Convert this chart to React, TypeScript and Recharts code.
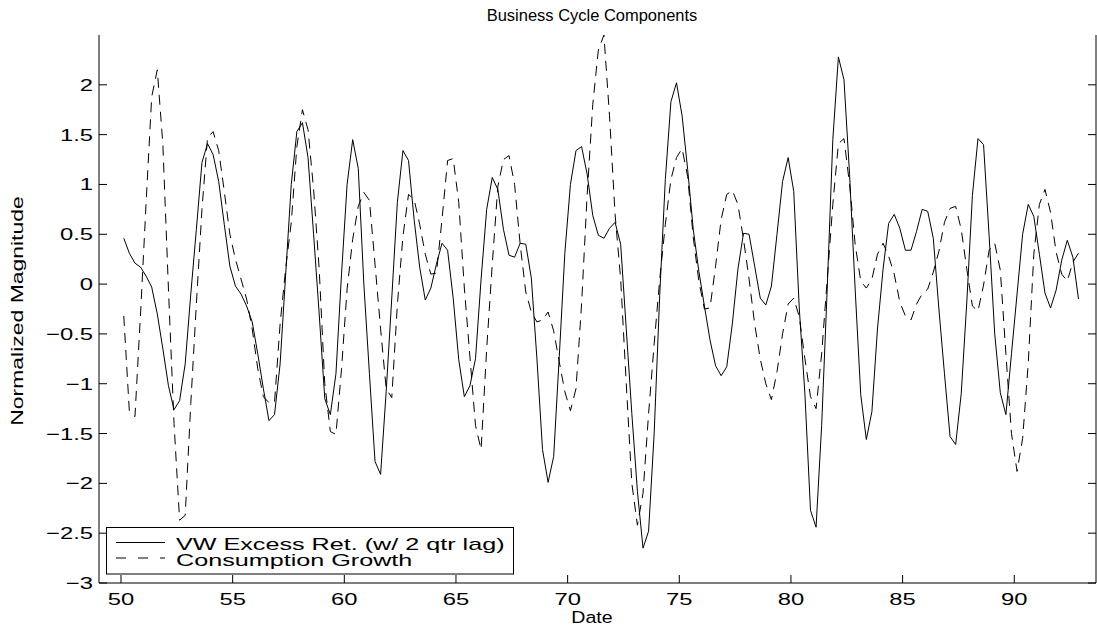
import React from 'react';
import { LineChart, Line, XAxis, YAxis, Legend } from 'recharts';

// Quarterly observations: first at 50.125, one every quarter (0.25 yr)
const START_DATE = 50.125;
const STEP = 0.25;

const vwExcessRet = [
  0.46, 0.31, 0.21, 0.17, 0.08, -0.03, -0.30, -0.65, -1.02, -1.26,
  -1.17, -0.80, -0.10, 0.55, 1.22, 1.41, 1.30, 1.03, 0.60, 0.18,
  -0.02, -0.10, -0.22, -0.38, -0.70, -1.05, -1.37, -1.31, -0.80, 0.10,
  1.00, 1.53, 1.62, 1.27, 0.50, -0.30, -1.15, -1.31, -0.90, 0.10,
  1.00, 1.45, 1.16, 0.00, -0.90, -1.78, -1.91, -1.08, -0.14, 0.82,
  1.34, 1.24, 0.65, 0.17, -0.16, -0.04, 0.20, 0.41, 0.34, -0.14,
  -0.76, -1.13, -1.02, -0.75, 0.05, 0.75, 1.07, 0.95, 0.55, 0.29,
  0.27, 0.41, 0.40, 0.06, -0.75, -1.66, -1.99, -1.73, -0.73, 0.31,
  1.00, 1.34, 1.38, 1.10, 0.69, 0.49, 0.46, 0.56, 0.62, 0.40,
  -0.45, -1.30, -2.08, -2.65, -2.48, -1.50, -0.10, 1.05, 1.83, 2.02,
  1.69, 1.15, 0.55, 0.13, -0.22, -0.56, -0.82, -0.92, -0.83, -0.40,
  0.15, 0.51, 0.50, 0.18, -0.14, -0.21, -0.02, 0.50, 1.03, 1.27,
  0.93, -0.25, -1.10, -2.27, -2.44, -1.42, -0.04, 1.45, 2.28, 2.05,
  1.10, -0.05, -1.11, -1.56, -1.28, -0.45, 0.15, 0.61, 0.70, 0.56,
  0.34, 0.34, 0.53, 0.75, 0.73, 0.46, -0.25, -0.90, -1.53, -1.61,
  -1.10, -0.18, 0.89, 1.46, 1.40, 0.48, -0.50, -1.09, -1.31, -0.70,
  -0.10, 0.50, 0.80, 0.68, 0.30, -0.09, -0.24, -0.06, 0.24, 0.44,
  0.27, -0.15,
];

const consumptionGrowth = [
  -0.32, -1.28, -1.33, -0.30, 0.82, 1.88, 2.15, 1.40, -0.05, -1.40,
  -2.37, -2.32, -1.20, -0.20, 0.75, 1.47, 1.53, 1.34, 0.93, 0.50,
  0.25, 0.05, -0.15, -0.45, -0.85, -1.13, -1.19, -1.19, -0.40, 0.16,
  0.62, 1.38, 1.75, 1.55, 0.95, 0.15, -1.00, -1.48, -1.51, -0.85,
  -0.05, 0.45, 0.78, 0.92, 0.84, 0.20, -0.45, -1.05, -1.14, -0.21,
  0.48, 0.90, 0.85, 0.60, 0.30, 0.10, 0.11, 0.65, 1.24, 1.26,
  0.82, -0.04, -0.73, -1.42, -1.66, -0.65, 0.20, 0.98, 1.25, 1.29,
  1.00, 0.40, -0.08, -0.28, -0.38, -0.36, -0.28, -0.47, -0.78, -1.08,
  -1.27, -1.05, -0.20, 0.90, 1.80, 2.35, 2.50, 1.69, 0.70, 0.05,
  -1.00, -2.00, -2.42, -2.10, -1.30, -0.60, 0.05, 0.60, 1.05, 1.27,
  1.36, 1.08, 0.47, 0.03, -0.25, -0.24, 0.18, 0.65, 0.90, 0.94,
  0.80, 0.45, 0.05, -0.40, -0.75, -1.00, -1.16, -0.88, -0.50, -0.20,
  -0.14, -0.33, -0.75, -1.13, -1.25, -0.70, 0.05, 0.80, 1.41, 1.46,
  1.00, 0.40, 0.03, -0.04, 0.05, 0.30, 0.41, 0.28, 0.10, -0.18,
  -0.32, -0.36, -0.20, -0.10, -0.05, 0.12, 0.33, 0.62, 0.76, 0.78,
  0.55, 0.15, -0.22, -0.27, -0.01, 0.34, 0.41, 0.14, -0.70, -1.50,
  -1.88, -1.55, -0.80, 0.30, 0.80, 0.95, 0.72, 0.32, 0.10, 0.03,
  0.22, 0.31,
];

const xTicks = [50, 55, 60, 65, 70, 75, 80, 85, 90];
const xTickLabels = ['50', '55', '60', '65', '70', '75', '80', '85', '90'];
const yTicks = [-3, -2.5, -2, -1.5, -1, -0.5, 0, 0.5, 1, 1.5, 2];
const yTickLabels = ['\u22123', '\u22122.5', '\u22122', '\u22121.5', '\u22121', '\u22120.5', '0', '0.5', '1', '1.5', '2'];

const seriesNames = ['VW Excess Ret. (w/ 2 qtr lag)', 'Consumption Growth'];
const chartTitle = 'Business Cycle Components';
const xLabel = 'Date';
const yLabel = 'Normalized Magnitude';

const data = vwExcessRet.map((v, i) => ({
  date: START_DATE + STEP * i,
  vw: v,
  cons: consumptionGrowth[i],
}));

const FONT = "'Liberation Sans', Arial, Helvetica, sans-serif";
const SX = 1.4;
const TICK = 8;
const W = 1097;
const H = 628;
const PLOT_LEFT = 99;
const PLOT_RIGHT = 1096;
const PLOT_TOP = 35;
const PLOT_BOTTOM = 583;
const X_DOMAIN: [number, number] = [49.015, 93.66];
const Y_DOMAIN: [number, number] = [-3, 2.5];
const LINE_DASH = '10 7';

const LeftTick = (props: any) => {
  const { y, payload } = props;
  const label = yTickLabels[yTicks.indexOf(payload.value)];
  return (
    <g>
      <line x1={PLOT_LEFT} y1={y} x2={PLOT_LEFT + TICK} y2={y} stroke="#000" strokeWidth={1} />
      <text
        transform={`translate(${PLOT_LEFT - 6},${y + 6}) scale(${SX},1)`}
        textAnchor="end"
        fontSize={17}
        fontFamily={FONT}
        fill="#000"
      >
        {label}
      </text>
    </g>
  );
};

const RightTick = (props: any) => {
  const { y } = props;
  return <line x1={PLOT_RIGHT} y1={y} x2={PLOT_RIGHT - TICK} y2={y} stroke="#000" strokeWidth={1} />;
};

const BottomTick = (props: any) => {
  const { x, payload } = props;
  const label = xTickLabels[xTicks.indexOf(payload.value)];
  return (
    <g>
      <line x1={x} y1={PLOT_BOTTOM} x2={x} y2={PLOT_BOTTOM - TICK} stroke="#000" strokeWidth={1} />
      <text
        transform={`translate(${x},${PLOT_BOTTOM + 22}) scale(${SX},1)`}
        textAnchor="middle"
        fontSize={17}
        fontFamily={FONT}
        fill="#000"
      >
        {label}
      </text>
    </g>
  );
};

const TopTick = (props: any) => {
  const { x } = props;
  return <line x1={x} y1={PLOT_TOP} x2={x} y2={PLOT_TOP + TICK} stroke="#000" strokeWidth={1} />;
};

const LegendBox = () => (
  <svg width={409} height={48} style={{ display: 'block', overflow: 'visible' }}>
    <rect x={0.5} y={0.5} width={407} height={46.5} fill="#fff" stroke="#000" strokeWidth={1} />
    <line x1={10} y1={15.5} x2={59} y2={15.5} stroke="#000" strokeWidth={1} />
    <line x1={10} y1={31} x2={59} y2={31} stroke="#000" strokeWidth={1} strokeDasharray="10 12" />
    <text transform={`translate(70,22.5) scale(1.48,1)`} fontSize={17} fontFamily={FONT} fill="#000">
      {seriesNames[0]}
    </text>
    <text transform={`translate(70,38.7) scale(1.48,1)`} fontSize={17} fontFamily={FONT} fill="#000">
      {seriesNames[1]}
    </text>
  </svg>
);

const LeftLabels = () => (
  <g>
    <text
      transform={`translate(22.5,311) rotate(-90) scale(1.35,1)`}
      textAnchor="middle"
      fontSize={17}
      fontFamily={FONT}
      fill="#000"
    >
      {yLabel}
    </text>
    <text
      transform={`translate(592,20.5) scale(1.03,1)`}
      textAnchor="middle"
      fontSize={16}
      fontFamily={FONT}
      fill="#000"
    >
      {chartTitle}
    </text>
  </g>
);

const BottomLabel = () => (
  <text
    transform={`translate(592,622.5) scale(1.15,1)`}
    textAnchor="middle"
    fontSize={17}
    fontFamily={FONT}
    fill="#000"
  >
    {xLabel}
  </text>
);

export default function App() {
  return (
    <div style={{ position: 'absolute', left: 0, top: 0, width: W, height: H, background: '#fff' }}>
      <LineChart
        width={W}
        height={H}
        data={data}
        margin={{ top: PLOT_TOP, right: W - PLOT_RIGHT - 1, bottom: H - PLOT_BOTTOM - 45, left: 0 }}
      >
        <XAxis
          xAxisId="b"
          dataKey="date"
          type="number"
          domain={X_DOMAIN}
          allowDataOverflow
          ticks={xTicks}
          interval={0}
          orientation="bottom"
          height={45}
          tickSize={0}
          tickMargin={0}
          tickLine={false}
          tick={BottomTick}
          axisLine={{ stroke: '#000', strokeWidth: 1 }}
          label={() => <BottomLabel />}
        />
        <XAxis
          xAxisId="t"
          dataKey="date"
          type="number"
          domain={X_DOMAIN}
          allowDataOverflow
          ticks={xTicks}
          interval={0}
          orientation="top"
          height={0}
          tickSize={0}
          tickMargin={0}
          tickLine={false}
          tick={TopTick}
          axisLine={{ stroke: '#000', strokeWidth: 1 }}
        />
        <YAxis
          yAxisId="l"
          type="number"
          domain={Y_DOMAIN}
          allowDataOverflow
          ticks={yTicks}
          interval={0}
          orientation="left"
          width={PLOT_LEFT}
          tickSize={0}
          tickMargin={0}
          tickLine={false}
          tick={LeftTick}
          axisLine={{ stroke: '#000', strokeWidth: 1 }}
          label={() => <LeftLabels />}
        />
        <YAxis
          yAxisId="r"
          type="number"
          domain={Y_DOMAIN}
          allowDataOverflow
          ticks={yTicks}
          interval={0}
          orientation="right"
          width={1}
          tickSize={0}
          tickMargin={0}
          tickLine={false}
          tick={RightTick}
          axisLine={{ stroke: '#000', strokeWidth: 1 }}
        />
        <Line
          xAxisId="b"
          yAxisId="l"
          type="linear"
          dataKey="vw"
          name={seriesNames[0]}
          stroke="#000"
          strokeWidth={1}
          dot={false}
          activeDot={false}
          isAnimationActive={false}
        />
        <Line
          xAxisId="b"
          yAxisId="l"
          type="linear"
          dataKey="cons"
          name={seriesNames[1]}
          stroke="#000"
          strokeWidth={1}
          strokeDasharray={LINE_DASH}
          dot={false}
          activeDot={false}
          isAnimationActive={false}
        />
        <Legend
          layout="vertical"
          align="center"
          verticalAlign="middle"
          wrapperStyle={{ left: 106, top: 527, width: 409, height: 48, margin: 0, padding: 0 }}
          content={() => <LegendBox />}
        />
      </LineChart>
    </div>
  );
}
